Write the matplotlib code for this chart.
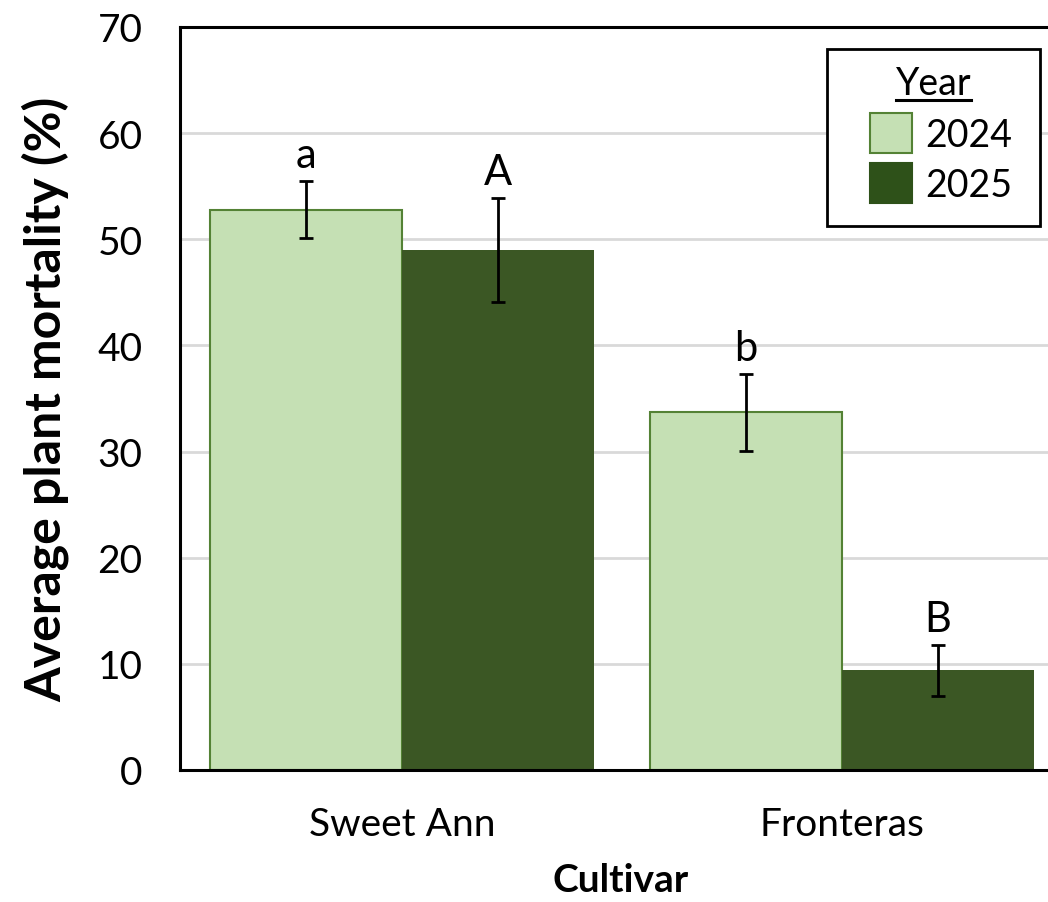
import matplotlib.pyplot as plt
import numpy as np
from matplotlib.patches import Rectangle
from matplotlib.lines import Line2D

plt.rcParams['font.family'] = ['Lato', 'DejaVu Sans']

cultivars = ["Sweet Ann", "Fronteras"]
years = ["2024", "2025"]
mortality_2024 = [52.8, 33.7]
mortality_2025 = [49.0, 9.4]
err_2024 = [2.7, 3.6]
err_2025 = [4.9, 2.4]
letters_2024 = ["a", "b"]
letters_2025 = ["A", "B"]

light_green = "#C5E0B4"
edge_green = "#548235"
dark_green = "#3B5724"
dark_green_key = "#2E5119"

fig = plt.figure(figsize=(10.48, 9.03), dpi=100)
# plot area runs a little past the right edge of the figure
ax = fig.add_axes([180 / 1048, 132 / 903, 882 / 1048, 743 / 903])

x = np.arange(len(cultivars))
w = 0.436

ax.bar(x - w / 2, mortality_2024, w, color=light_green, edgecolor=edge_green,
       linewidth=1.5, zorder=2)
ax.bar(x + w / 2, mortality_2025, w, color=dark_green, linewidth=0, zorder=2)

err_kw = dict(fmt="none", ecolor="black", elinewidth=2, capsize=4.7, capthick=2, zorder=3)
ax.errorbar(x - w / 2, mortality_2024, yerr=err_2024, **err_kw)
ax.errorbar(x + w / 2, mortality_2025, yerr=err_2025, **err_kw)

# significance letters just above each error bar
for xi, m, e, t in zip(x - w / 2, mortality_2024, err_2024, letters_2024):
    ax.annotate(t, (xi, m + e), xytext=(0, 10), textcoords="offset points",
                ha="center", va="baseline", fontsize=30)
for xi, m, e, t in zip(x + w / 2, mortality_2025, err_2025, letters_2025):
    ax.annotate(t, (xi, m + e), xytext=(0, 10), textcoords="offset points",
                ha="center", va="baseline", fontsize=30)

ax.set_xlim(-0.5045, 1.5)
ax.set_ylim(0, 70)
ax.set_yticks(np.arange(0, 71, 10))
ax.set_xticks(x)
ax.set_xticklabels(cultivars)
ax.tick_params(axis="both", length=0, labelsize=28)
ax.tick_params(axis="y", pad=27)
ax.tick_params(axis="x", pad=26)
ax.yaxis.grid(True, color="#D9D9D9", linewidth=2, zorder=0)
ax.set_axisbelow(True)
for s in ax.spines.values():
    s.set_linewidth(2.2)
    s.set_color("black")

ax.set_ylabel("Average plant mortality (%)", fontsize=36, fontweight="bold", labelpad=20)
ax.set_xlabel("Cultivar", fontsize=28, fontweight="bold", labelpad=14)

# legend box drawn by hand (underlined title, wide side padding)
ax.add_patch(Rectangle((0.734, 0.732), 0.241, 0.2384, transform=ax.transAxes,
                       facecolor="white", edgecolor="black", linewidth=2,
                       zorder=5, clip_on=False))
title = ax.text(0.8545, 0.9098, "Year", transform=ax.transAxes, ha="center",
                va="baseline", fontsize=27, zorder=6)
key_colors = [(light_green, edge_green), (dark_green_key, dark_green_key)]
key_y = [0.8304, 0.7631]
for (fc, ec), ky, label in zip(key_colors, key_y, years):
    ax.add_patch(Rectangle((0.7818, ky), 0.0477, 0.0539, transform=ax.transAxes,
                           facecolor=fc, edgecolor=ec, linewidth=1.5, zorder=6))
    ax.text(0.8455, ky + 0.0095, label, transform=ax.transAxes, ha="left",
            va="baseline", fontsize=27, zorder=6)

fig.canvas.draw()
bb = title.get_window_extent().transformed(fig.transFigure.inverted())
uy = bb.y0 + 1 / 903
fig.add_artist(Line2D([bb.x0, bb.x1], [uy, uy], color="black", linewidth=2.2, zorder=7))

fig.savefig("out.png", dpi=100)
